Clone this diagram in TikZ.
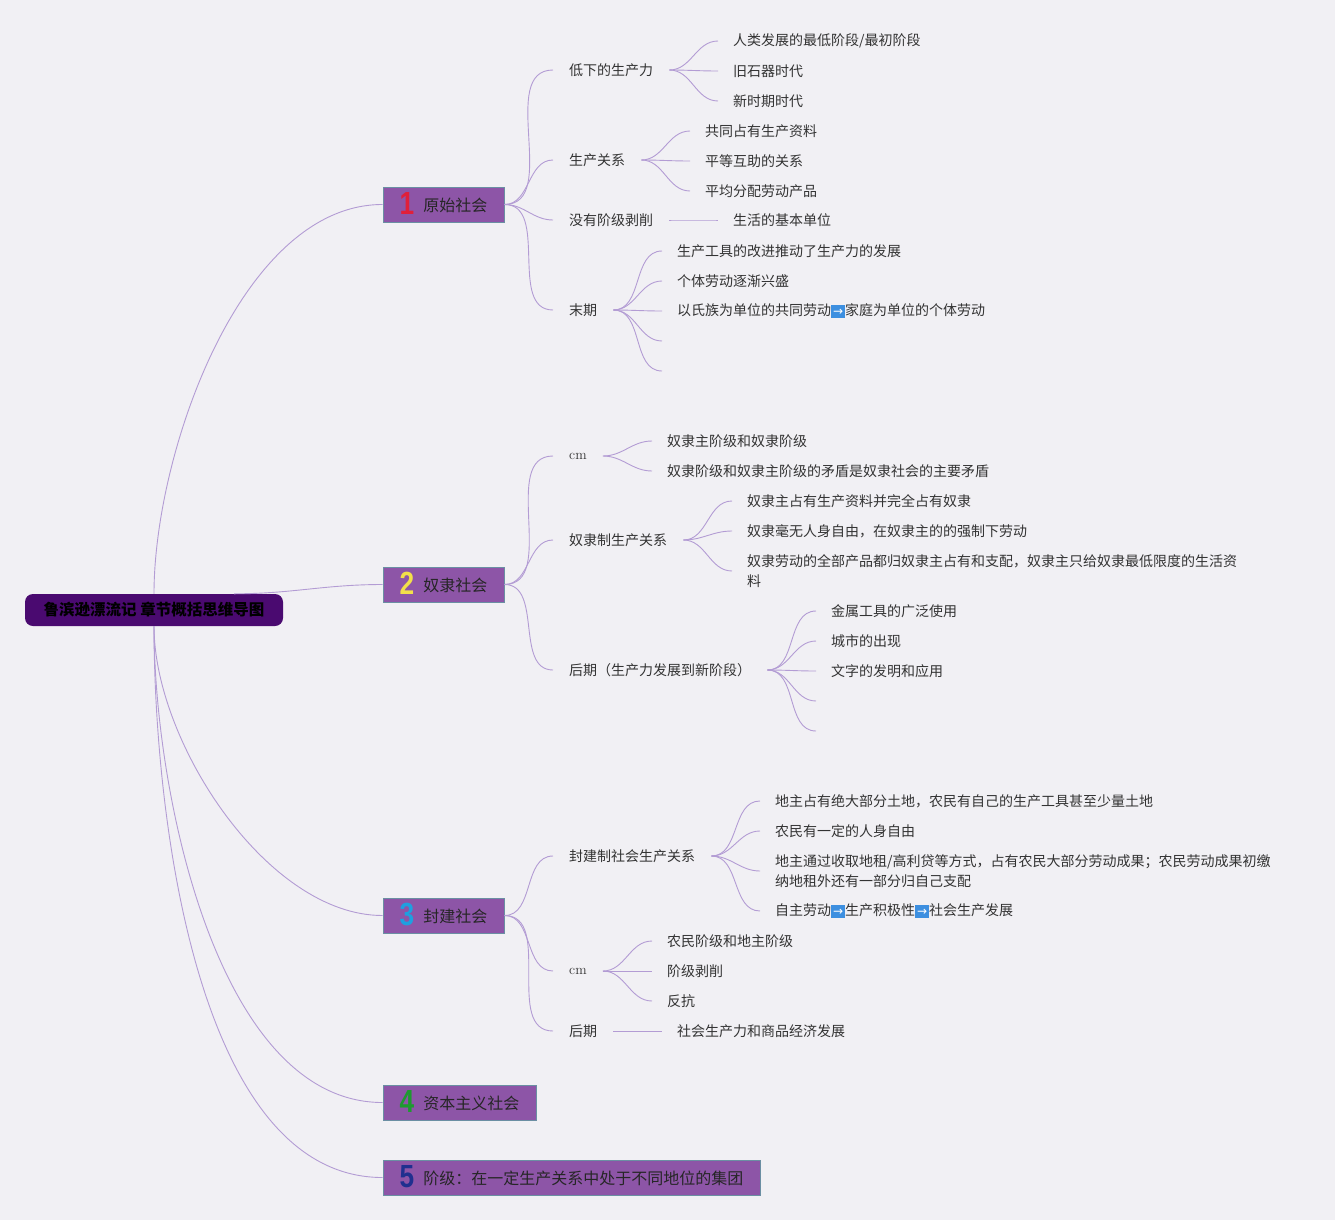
\documentclass[tikz,border=0pt]{standalone}
\usepackage{fontspec}
\setmainfont{Noto Sans CJK SC}
\newfontfamily\numfont{Liberation Sans}
\newfontfamily\symfont{DejaVu Sans}
\newfontfamily\latinfont{Latin Modern Roman}

\definecolor{bggray}{HTML}{F1F0F4}
\definecolor{rootpurple}{HTML}{4A0A70}
\definecolor{topicfill}{HTML}{8D55A7}
\definecolor{topicborder}{HTML}{6B8FA3}
\definecolor{linkpurple}{HTML}{B39CD4}
\definecolor{textgray}{HTML}{333333}
\definecolor{arrowblue}{HTML}{3D8FE0}
\definecolor{numred}{HTML}{E0203A}
\definecolor{numyellow}{HTML}{F2E04A}
\definecolor{numblue}{HTML}{1EA0E0}
\definecolor{numgreen}{HTML}{1E9A30}
\definecolor{numnavy}{HTML}{20308F}

\newcommand{\topicnum}[2]{\raisebox{-3pt}{\textcolor{#1}{\scalebox{0.82}[1]{\numfont\bfseries\fontsize{32}{32}\selectfont #2}}}\hspace{9pt}}
\newcommand{\goarrow}{{\setlength{\fboxsep}{1pt}\colorbox{arrowblue}{\makebox[12pt][c]{\rule[-1pt]{0pt}{11pt}\textcolor{white}{\symfont\fontsize{12}{12}\selectfont →}}}}}

\tikzset{
  link/.style={draw=linkpurple, line width=0.9pt},
  root/.style={fill=rootpurple, rounded corners=8pt, minimum width=258pt, minimum height=32pt,
    text=black, font=\bfseries\fontsize{15.5}{18}\selectfont},
  topic/.style={fill=topicfill, draw=topicborder, line width=1pt, minimum height=35pt,
    inner sep=0pt, text height=13pt, text depth=0pt, text=black!85, font=\fontsize{16}{18}\selectfont},
  sub/.style={anchor=west, inner xsep=0pt, inner ysep=2pt, text=textgray,
    font=\fontsize{14}{20}\selectfont, align=left},
}

\begin{document}
\begin{tikzpicture}[x=1pt, y=-1pt]
        % background
        \fill[bggray] (0,0) rectangle (1335,1220);
        \useasboundingbox (0,0) rectangle (1335,1220);

        % draw root and topics
        \node[root] (root) at (154,610) {鲁滨逊漂流记 章节概括思维导图};
        \node[topic, minimum width=121pt] (b1) at (443.5,204.5) {\topicnum{numred}{1}原始社会};
        \node[topic, minimum width=121pt] (b2) at (443.5,584.5) {\topicnum{numyellow}{2}奴隶社会};
        \node[topic, minimum width=121pt] (b3) at (443.5,915.5) {\topicnum{numblue}{3}封建社会};
        \node[topic, minimum width=153pt] (b4) at (459.5,1102.5) {\topicnum{numgreen}{4}资本主义社会};
        \node[topic, minimum width=377pt] (b5) at (571.5,1177.5) {\topicnum{numnavy}{5}阶级：在一定生产关系中处于不同地位的集团};

        % draw links from root
        \draw[link] (root.north) to[out=90,in=180,looseness=0.8] (b1.west);
        \draw[link] ([xshift=80pt]root.north) to[out=0,in=180] (b2.west);
        \foreach \b in {b3,b4,b5}
          \draw[link] (root.south) to[out=-90,in=180,looseness=0.8] (\b.west);

        % topic 1
        \node[sub] (p11) at (569,70) {低下的生产力};
        \node[sub] (p12) at (569,160) {生产关系};
        \node[sub] (p13) at (569,220) {没有阶级剥削};
        \node[sub] (p14) at (569,310) {末期};
        \node[sub] (p11a) at (733,41) {人类发展的最低阶段/最初阶段};
        \node[sub] (p11b) at (733,71) {旧石器时代};
        \node[sub] (p11c) at (733,101) {新时期时代};
        \node[sub] (p12a) at (705,131) {共同占有生产资料};
        \node[sub] (p12b) at (705,161) {平等互助的关系};
        \node[sub] (p12c) at (705,191) {平均分配劳动产品};
        \node[sub] (p13a) at (733,220) {生活的基本单位};
        \node[sub] (p14a) at (677,251) {生产工具的改进推动了生产力的发展};
        \node[sub] (p14b) at (677,281) {个体劳动逐渐兴盛};
        \node[sub] (p14c) at (677,311) {以氏族为单位的共同劳动\goarrow 家庭为单位的个体劳动};
        \coordinate (p14d) at (677,341);
        \coordinate (p14e) at (677,371);

        % topic 2
        \node[sub] (p21) at (569,456) {\latinfont cm};
        \node[sub] (p22) at (569,540) {奴隶制生产关系};
        \node[sub] (p23) at (569,670) {后期（生产力发展到新阶段）};
        \node[sub] (p21a) at (667,441) {奴隶主阶级和奴隶阶级};
        \node[sub] (p21b) at (667,471) {奴隶阶级和奴隶主阶级的矛盾是奴隶社会的主要矛盾};
        \node[sub] (p22a) at (747,501) {奴隶主占有生产资料并完全占有奴隶};
        \node[sub] (p22b) at (747,531) {奴隶毫无人身自由，在奴隶主的的强制下劳动};
        \node[sub] (p22c) at (747,571) {奴隶劳动的全部产品都归奴隶主占有和支配，奴隶主只给奴隶最低限度的生活资\\料};
        \node[sub] (p23a) at (831,611) {金属工具的广泛使用};
        \node[sub] (p23b) at (831,641) {城市的出现};
        \node[sub] (p23c) at (831,671) {文字的发明和应用};
        \coordinate (p23d) at (831,701);
        \coordinate (p23e) at (831,731);

        % topic 3
        \node[sub] (p31) at (569,856) {封建制社会生产关系};
        \node[sub] (p32) at (569,971) {\latinfont cm};
        \node[sub] (p33) at (569,1031) {后期};
        \node[sub] (p31a) at (775,801) {地主占有绝大部分土地，农民有自己的生产工具甚至少量土地};
        \node[sub] (p31b) at (775,831) {农民有一定的人身自由};
        \node[sub] (p31c) at (775,871) {地主通过收取地租/高利贷等方式，占有农民大部分劳动成果；农民劳动成果初缴\\纳地租外还有一部分归自己支配};
        \node[sub] (p31d) at (775,911) {自主劳动\goarrow 生产积极性\goarrow 社会生产发展};
        \node[sub] (p32a) at (667,941) {农民阶级和地主阶级};
        \node[sub] (p32b) at (667,971) {阶级剥削};
        \node[sub] (p32c) at (667,1001) {反抗};
        \node[sub] (p33a) at (677,1031) {社会生产力和商品经济发展};

        % draw links from topics
        \foreach \p in {p11,p12,p13,p14}
          \draw[link] (b1.east) to[out=0,in=180] ([xshift=-16pt]\p.west);
        \foreach \p in {p21,p22,p23}
          \draw[link] (b2.east) to[out=0,in=180] ([xshift=-16pt]\p.west);
        \foreach \p in {p31,p32,p33}
          \draw[link] (b3.east) to[out=0,in=180] ([xshift=-16pt]\p.west);

        % draw links to leaves
        \foreach \p/\list in {p11/{a,b,c}, p12/{a,b,c}, p13/{a}, p14/{a,b,c,d,e},
                              p21/{a,b}, p22/{a,b,c}, p23/{a,b,c,d,e},
                              p31/{a,b,c,d}, p32/{a,b,c}, p33/{a}}
          \foreach \n in \list
            \draw[link] ([xshift=16pt]\p.east) to[out=0,in=180] ([xshift=-15pt]\p\n.west);
\end{tikzpicture}
\end{document}
